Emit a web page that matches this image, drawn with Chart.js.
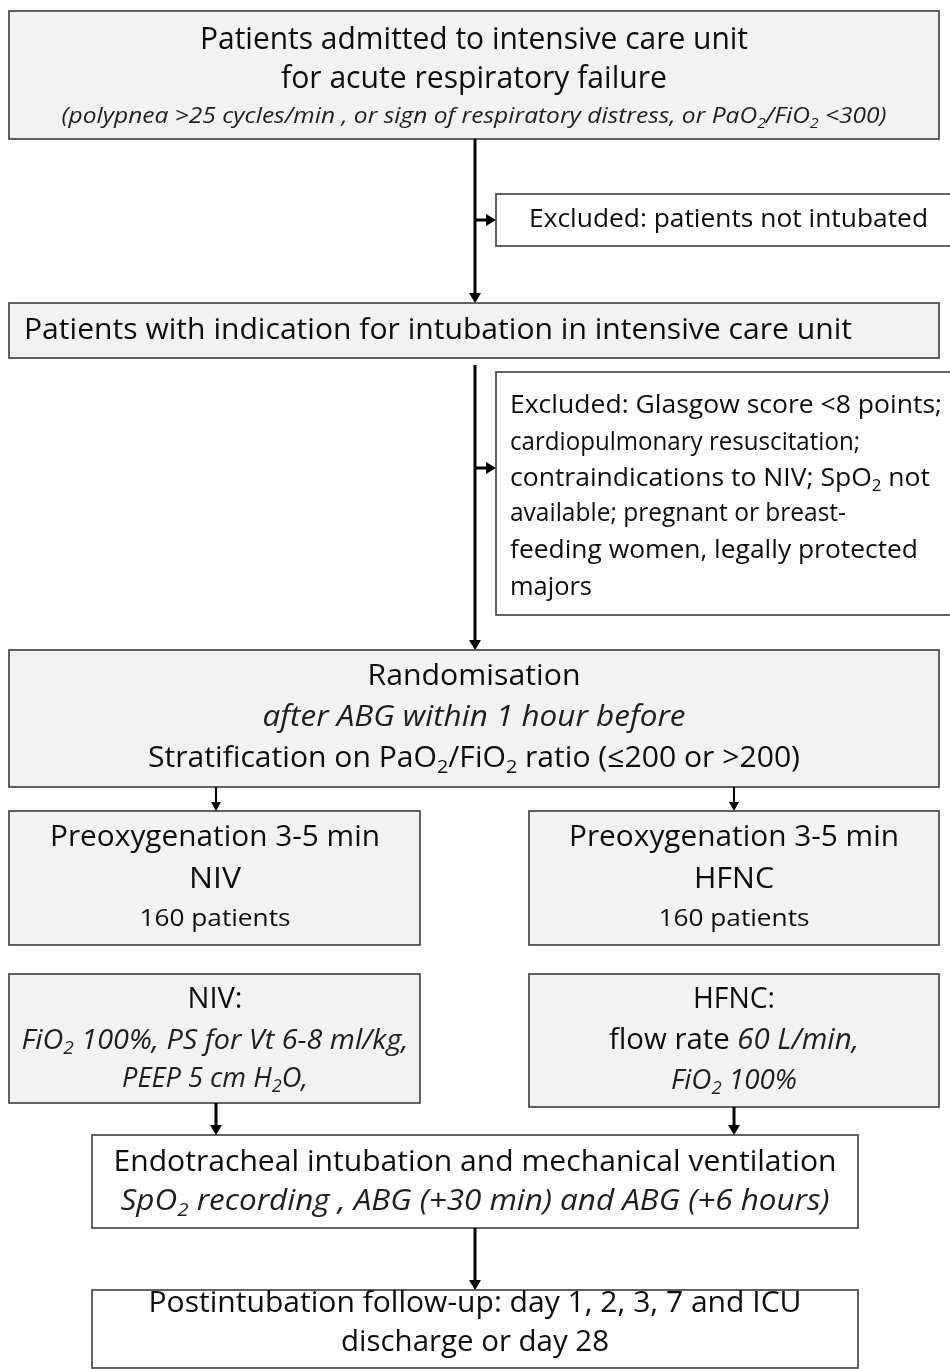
<!DOCTYPE html>
<html>
<head>
<meta charset="utf-8">
<script src="https://cdn.jsdelivr.net/npm/chart.js@4.4.1/dist/chart.umd.min.js"></script>
<style>
  html, body { margin: 0; padding: 0; background: #fff; }
  #wrap { width: 950px; height: 1369px; }
</style>
</head>
<body>
<div id="wrap"><canvas id="flow" width="950" height="1369"></canvas></div>
<script>
// Box texts. *...* = italic, _x = subscript character
const screeningLines = [
  'Patients admitted to intensive care unit',
  'for acute respiratory failure',
  '*(polypnea >25 cycles/min , or sign of respiratory distress, or PaO_2/FiO_2 <300)*'
];
const excludedFirstLines = ['Excluded: patients not intubated'];
const indicationLines = ['Patients with indication for intubation in intensive care unit'];
const excludedSecondLines = [
  'Excluded: Glasgow score <8 points;',
  'cardiopulmonary resuscitation;',
  'contraindications to NIV; SpO_2 not',
  'available; pregnant or breast-',
  'feeding women, legally protected',
  'majors'
];
const randomisationLines = [
  'Randomisation',
  '*after ABG within 1 hour before*',
  'Stratification on PaO_2/FiO_2 ratio (\u2264200 or >200)'
];
const preoxNivLines = ['Preoxygenation 3-5 min', 'NIV', '160 patients'];
const preoxHfncLines = ['Preoxygenation 3-5 min', 'HFNC', '160 patients'];
const nivSettingLines = ['NIV:', '*FiO_2 100%, PS for Vt 6-8 ml/kg,*', '*PEEP 5 cm H_2O,*'];
const hfncSettingLines = ['HFNC:', 'flow rate *60 L/min,*', '*FiO_2 100%*'];
const intubationLines = [
  'Endotracheal intubation and mechanical ventilation',
  '*SpO_2 recording , ABG (+30 min) and ABG (+6 hours)*'
];
const followUpLines = [
  'Postintubation follow-up: day 1, 2, 3, 7 and ICU',
  'discharge or day 28'
];

// Layout (chart units = pixels of the reference)
const GRAY = '#f2f2f2', WHITE = '#ffffff';
const boxes = [
  { text: screeningLines, x0: 9, y0: 11, x1: 939, y1: 139, fill: GRAY, cx: 474,
    rows: [[40, 548, 31], [79, 386, 31], [117, 825, 22]] },
  { text: excludedFirstLines, x0: 496, y0: 194, x1: 953, y1: 246, fill: WHITE, left: 529,
    rows: [[220, 399, 26]] },
  { text: indicationLines, x0: 9, y0: 303, x1: 939, y1: 358, fill: GRAY, left: 24,
    rows: [[331, 828, 29]] },
  { text: excludedSecondLines, x0: 496, y0: 372, x1: 953, y1: 615, fill: WHITE, left: 510,
    rows: [[406, 432, 25], [443, 350, 25], [479, 420, 25], [514, 336, 25], [551, 408, 25], [588, 82, 25]] },
  { text: randomisationLines, x0: 9, y0: 650, x1: 939, y1: 787, fill: GRAY, cx: 474,
    rows: [[677, 213, 29], [718, 423, 29], [759, 652, 29]] },
  { text: preoxNivLines, x0: 9, y0: 811, x1: 420, y1: 945, fill: GRAY, cx: 215,
    rows: [[838, 330, 29], [880, 52, 29], [919, 151, 24]] },
  { text: preoxHfncLines, x0: 529, y0: 811, x1: 939, y1: 945, fill: GRAY, cx: 734,
    rows: [[838, 330, 29], [880, 80, 29], [919, 151, 24]] },
  { text: nivSettingLines, x0: 9, y0: 974, x1: 420, y1: 1103, fill: GRAY, cx: 215,
    rows: [[1000, 55, 29], [1041, 387, 27], [1079, 186, 27]] },
  { text: hfncSettingLines, x0: 529, y0: 974, x1: 939, y1: 1107, fill: GRAY, cx: 734,
    rows: [[1000, 82, 29], [1041, 250, 29], [1081, 126, 27]] },
  { text: intubationLines, x0: 92, y0: 1135, x1: 858, y1: 1228, fill: WHITE, cx: 475,
    rows: [[1162, 723, 30], [1202, 709, 29]] },
  { text: followUpLines, x0: 92, y0: 1290, x1: 858, y1: 1368, fill: WHITE, cx: 475,
    rows: [[1304, 653, 29], [1343, 268, 29]] }
];

// connectors: from -> tip, line width
const arrows = [
  { from: [475, 139], to: [475, 303], w: 3 },
  { from: [475, 220], to: [496, 220], w: 3 },
  { from: [475, 365], to: [475, 650], w: 3 },
  { from: [475, 468], to: [496, 468], w: 3 },
  { from: [216, 787], to: [216, 811], w: 2 },
  { from: [734, 787], to: [734, 811], w: 2 },
  { from: [216, 1103], to: [216, 1135], w: 3 },
  { from: [734, 1107], to: [734, 1135], w: 3 },
  { from: [475, 1228], to: [475, 1290], w: 3 }
];

const FONT = '"Open Sans", "DejaVu Sans", sans-serif';

function parseRuns(str) {
  const runs = [];
  let italic = false, buf = '';
  const push = (t, sub) => { if (t) runs.push({ t, italic, sub }); };
  for (let i = 0; i < str.length; i++) {
    const c = str[i];
    if (c === '*') { push(buf, false); buf = ''; italic = !italic; }
    else if (c === '_') { push(buf, false); buf = ''; push(str[i + 1], true); i++; }
    else buf += c;
  }
  push(buf, false);
  return runs;
}

function runFont(r, size) {
  const s = r.sub ? Math.round(size * 0.65) : size;
  return (r.italic ? 'italic ' : '') + s + 'px ' + FONT;
}

function headLen(w) { return w >= 3 ? 10 : 9; }

const flowPlugin = {
  id: 'flow',
  beforeDatasetsDraw(chart) {
    const { ctx, scales: { x, y } } = chart;
    ctx.save();
    boxes.forEach(b => {
      const px = x.getPixelForValue(b.x0), py = y.getPixelForValue(b.y0);
      const pw = x.getPixelForValue(b.x1) - px, ph = y.getPixelForValue(b.y1) - py;
      ctx.fillStyle = b.fill;
      ctx.fillRect(px, py, pw, ph);
      ctx.strokeStyle = '#3c3c3c';
      ctx.lineWidth = 1.6;
      ctx.strokeRect(px, py, pw, ph);
    });
    ctx.restore();
  },
  afterDatasetsDraw(chart) {
    const { ctx, scales: { x, y } } = chart;
    ctx.save();
    // arrow heads
    ctx.fillStyle = '#000';
    arrows.forEach(a => {
      const tx = x.getPixelForValue(a.to[0]), ty = y.getPixelForValue(a.to[1]);
      const fx = x.getPixelForValue(a.from[0]), fy = y.getPixelForValue(a.from[1]);
      const len = Math.hypot(tx - fx, ty - fy);
      const ux = (tx - fx) / len, uy = (ty - fy) / len;
      const hl = headLen(a.w), hw = a.w >= 3 ? 6 : 5;
      ctx.beginPath();
      ctx.moveTo(tx, ty);
      ctx.lineTo(tx - ux * hl - uy * hw, ty - uy * hl + ux * hw);
      ctx.lineTo(tx - ux * hl + uy * hw, ty - uy * hl - ux * hw);
      ctx.closePath();
      ctx.fill();
    });
    // texts
    ctx.textBaseline = 'middle';
    ctx.textAlign = 'left';
    boxes.forEach(b => {
      b.text.forEach((line, i) => {
        const [ry, rw, size] = b.rows[i];
        const runs = parseRuns(line);
        let natural = 0;
        runs.forEach(r => { ctx.font = runFont(r, size); natural += ctx.measureText(r.t).width; });
        const k = rw / natural;
        const startX = b.cx !== undefined ? x.getPixelForValue(b.cx - rw / 2) : x.getPixelForValue(b.left);
        const py = y.getPixelForValue(ry);
        ctx.save();
        ctx.translate(startX, py);
        ctx.scale(k, 1);
        let cur = 0;
        runs.forEach(r => {
          ctx.font = runFont(r, size);
          ctx.fillStyle = r.italic ? '#1e1e1e' : '#0d0d0d';
          ctx.fillText(r.t, cur, r.sub ? size * 0.3 : 0);
          cur += ctx.measureText(r.t).width;
        });
        ctx.restore();
      });
    });
    ctx.restore();
  }
};

const shaftDatasets = arrows.map(a => {
  const dx = a.to[0] - a.from[0], dy = a.to[1] - a.from[1];
  const len = Math.hypot(dx, dy), hl = headLen(a.w) - 1;
  return {
    data: [
      { x: a.from[0], y: a.from[1] },
      { x: a.to[0] - dx / len * hl, y: a.to[1] - dy / len * hl }
    ],
    showLine: true,
    borderColor: '#000',
    borderWidth: a.w,
    pointRadius: 0,
    borderCapStyle: 'butt'
  };
});

new Chart(document.getElementById('flow').getContext('2d'), {
  type: 'scatter',
  data: { datasets: shaftDatasets },
  options: {
    responsive: false,
    animation: false,
    devicePixelRatio: 1,
    layout: { padding: 0 },
    scales: {
      x: { type: 'linear', min: 0, max: 950, display: false },
      y: { type: 'linear', min: 0, max: 1369, reverse: true, display: false }
    },
    plugins: { legend: { display: false }, tooltip: { enabled: false } },
    events: []
  },
  plugins: [flowPlugin]
});
</script>
</body>
</html>
